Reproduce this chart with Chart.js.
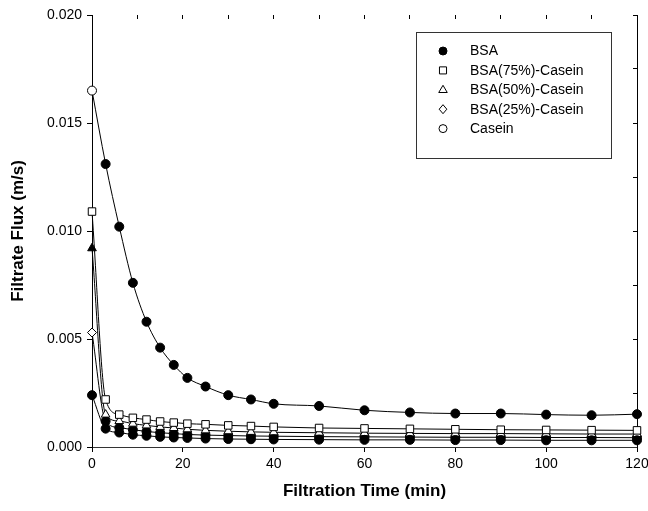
<!DOCTYPE html>
<html><head><meta charset="utf-8">
<script src="https://cdn.jsdelivr.net/npm/chart.js@4.4.0/dist/chart.umd.min.js"></script>
<style>html,body{margin:0;padding:0;background:#fff}canvas{display:block}</style>
</head><body>
<canvas id="c" width="648" height="511"></canvas>
<script>
// ---- data ----
const timeMin   = [0, 3, 6, 9, 12, 15, 18, 21, 25, 30, 35, 40, 50, 60, 70, 80, 90, 100, 110, 120];
const fluxBSA   = [0.0024, 0.00085, 0.00067, 0.00057, 0.00052, 0.00047, 0.00044, 0.00042, 0.00039, 0.00037, 0.00036, 0.00035, 0.00034, 0.00033, 0.00033, 0.00032, 0.00032, 0.00031, 0.00031, 0.00031];
const fluxBSA75 = [0.0109, 0.0022, 0.0015, 0.00135, 0.00127, 0.00118, 0.00113, 0.00108, 0.00105, 0.0010, 0.00097, 0.00093, 0.00088, 0.00086, 0.00084, 0.00082, 0.0008, 0.00079, 0.00078, 0.00077];
const fluxBSA50 = [0.0092, 0.0015, 0.0012, 0.00108, 0.0010, 0.00093, 0.00088, 0.00082, 0.00077, 0.00073, 0.0007, 0.00068, 0.00066, 0.00064, 0.00063, 0.00062, 0.00062, 0.00061, 0.0006, 0.0006];
const fluxBSA25 = [0.0053, 0.0012, 0.0009, 0.0008, 0.00072, 0.00066, 0.00062, 0.00058, 0.00055, 0.00053, 0.00051, 0.0005, 0.00048, 0.00047, 0.00046, 0.00045, 0.00045, 0.00044, 0.00044, 0.00043];
const fluxCasein= [0.0165, 0.0131, 0.0102, 0.0076, 0.0058, 0.0046, 0.0038, 0.0032, 0.0028, 0.0024, 0.0022, 0.0020, 0.0019, 0.0017, 0.0016, 0.00155, 0.00155, 0.0015, 0.00147, 0.00152];
const seriesLabels = ['BSA', 'BSA(75%)-Casein', 'BSA(50%)-Casein', 'BSA(25%)-Casein', 'Casein'];
const xTitle = 'Filtration Time (min)';
const yTitle = 'Filtrate Flux (m/s)';

// ---- styles ----
const FONT = '"Liberation Sans", Arial, sans-serif';
const toXY = arr => timeMin.map((t, i) => ({x: t, y: arr[i]}));
const legendMarks = [
  {style: 'circle', fill: '#000', r: 4},
  {style: 'rect', fill: '#fff', r: 5},
  {style: 'triangle', fill: '#fff', r: 4.5},
  {style: 'rectRot', fill: '#fff', r: 4.5},
  {style: 'circle', fill: '#fff', r: 4}
];

function ds(label, arr, pStyle, bg, radius) {
  return {
    label, data: toXY(arr), xAxisID: 'x', yAxisID: 'y', clip: false,
    borderColor: '#000', borderWidth: 1, fill: false, showLine: true,
    cubicInterpolationMode: 'monotone',
    pointStyle: pStyle, pointBackgroundColor: bg, pointBorderColor: '#000',
    pointBorderWidth: 1, pointRadius: radius
  };
}

const datasets = [
  ds(seriesLabels[0], fluxBSA, 'circle', '#000', 4.5),
  ds(seriesLabels[1], fluxBSA75, 'rect', '#fff', 5.3),
  ds(seriesLabels[2], fluxBSA50, 'triangle', c => c.dataIndex === 0 ? '#000' : '#fff', 5),
  ds(seriesLabels[3], fluxBSA25, c => c.dataIndex === 0 ? 'rectRot' : 'circle', c => c.dataIndex === 0 ? '#fff' : '#000', 4.5),
  ds(seriesLabels[4], fluxCasein, 'circle', c => c.dataIndex === 0 ? '#fff' : '#000', 4.5)
];

function drawMark(ctx, m, x, y) {
  ctx.save();
  ctx.beginPath();
  const r = m.r;
  if (m.style === 'circle') ctx.arc(x, y, r, 0, Math.PI * 2);
  else if (m.style === 'rect') { const s = r * Math.SQRT1_2; ctx.rect(x - s, y - s, 2 * s, 2 * s); }
  else if (m.style === 'triangle') { ctx.moveTo(x, y - r); ctx.lineTo(x + r * 0.95, y + r * 0.6); ctx.lineTo(x - r * 0.95, y + r * 0.6); ctx.closePath(); }
  else if (m.style === 'rectRot') { ctx.moveTo(x, y - r); ctx.lineTo(x + r * 0.85, y); ctx.lineTo(x, y + r); ctx.lineTo(x - r * 0.85, y); ctx.closePath(); }
  ctx.fillStyle = m.fill; ctx.fill();
  ctx.strokeStyle = '#000'; ctx.lineWidth = 1; ctx.stroke();
  ctx.restore();
}

const boxLegend = {
  id: 'boxLegend',
  afterDraw(chart) {
    const ctx = chart.ctx;
    ctx.save();
    ctx.fillStyle = '#fff';
    ctx.fillRect(416.5, 32.5, 195, 126);
    ctx.strokeStyle = '#333'; ctx.lineWidth = 1;
    ctx.strokeRect(416.5, 32.5, 195, 126);
    ctx.font = '14px ' + FONT;
    ctx.fillStyle = '#000';
    ctx.textBaseline = 'middle';
    ctx.textAlign = 'left';
    chart.data.datasets.forEach((d, i) => {
      const y = 51 + i * 19.4;
      drawMark(ctx, legendMarks[i], 443, y);
      ctx.fillText(d.label, 470, y + 0.5);
    });
    ctx.restore();
  }
};

const noPad = s => { s.paddingLeft = 0; s.paddingRight = 0; s.paddingTop = 0; s.paddingBottom = 0; };

new Chart(document.getElementById('c'), {
  type: 'line',
  data: {datasets},
  plugins: [boxLegend],
  options: {
    responsive: false, animation: false,
    layout: {padding: 0},
    plugins: {legend: {display: false}, tooltip: {enabled: false}},
    scales: {
      x: {
        type: 'linear', position: 'bottom', min: 0, max: 120,
        ticks: {stepSize: 20, color: '#000', font: {family: FONT, size: 14}, padding: 4, maxRotation: 0},
        grid: {drawOnChartArea: false, color: '#000', tickLength: 5},
        border: {display: true, color: '#333', width: 1},
        title: {display: true, text: xTitle, color: '#000', font: {family: FONT, size: 17, weight: 'bold'}, padding: {top: 0, bottom: 9}},
        afterFit(s) { s.height = 64; noPad(s); }
      },
      x2: {
        type: 'linear', position: 'top', min: 0, max: 120,
        ticks: {display: false, stepSize: 10},
        grid: {drawOnChartArea: false, color: '#000', tickLength: -4},
        border: {display: false},
        afterFit(s) { s.height = 15; noPad(s); }
      },
      y: {
        type: 'linear', position: 'left', min: 0, max: 0.02,
        ticks: {stepSize: 0.005, color: '#000', font: {family: FONT, size: 14}, padding: 5,
                callback: v => v.toFixed(3)},
        grid: {drawOnChartArea: false, color: '#000', tickLength: 5},
        border: {display: true, color: '#000', width: 1},
        title: {display: true, text: yTitle, color: '#000', font: {family: FONT, size: 17, weight: 'bold'}, padding: {top: 8, bottom: 0}},
        afterFit(s) { s.width = 92; noPad(s); }
      },
      y2: {
        type: 'linear', position: 'right', min: 0, max: 0.02,
        ticks: {display: false, stepSize: 0.0025},
        grid: {drawOnChartArea: false, color: '#000', tickLength: -4},
        border: {display: true, color: '#000', width: 1},
        afterFit(s) { s.width = 11; noPad(s); }
      }
    }
  }
});
</script>
</body></html>
